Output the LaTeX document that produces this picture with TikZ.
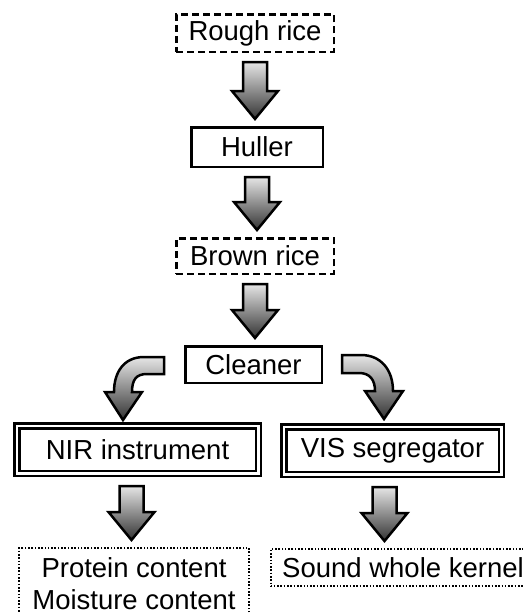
\documentclass[tikz,border=0pt]{standalone}
\usepackage{fontspec}
\setmainfont{Liberation Sans}
\usepackage{tikz}
\usetikzlibrary{positioning, calc}

\newcommand{\nodefont}{\fontsize{27.5}{32}\selectfont}
% fat block arrow going down from one node to the next
\newcommand{\fatdown}[3][0pt]{%
    \draw[fatarrow] let \p1=($(#2.south)+(#1,-9pt)$), \p2=($(#3.north)+(#1,7pt)$) in
        (\x1-12pt,\y1) -- (\x1+12pt,\y1) -- (\x1+12pt,\y2+28pt) -- (\x1+23pt,\y2+28pt)
        -- (\x1,\y2) -- (\x1-23pt,\y2+28pt) -- (\x1-12pt,\y2+28pt) -- cycle;}

\begin{document}
\begin{tikzpicture}[
        x=1pt, y=1pt,
        box/.style={draw, line width=2.5pt, minimum width=136.5pt, minimum height=36.5pt, inner sep=0pt, align=center, font=\nodefont},
        dashbox/.style={box, dash pattern=on 7pt off 4pt},
        dotbox/.style={box, line width=2pt, dash pattern=on 1.6pt off 1.7pt},
        dblbox/.style={box, line width=2.5pt, double, double distance=2.5pt, outer sep=3.75pt, minimum height=47.5pt},
        fatarrow/.style={draw, line width=2.5pt, top color=black!10, bottom color=black!80}
    ]
        \useasboundingbox (0,0) rectangle (522,-613);

        \node[dashbox, minimum width=157.5pt, minimum height=37.5pt] at (255,-33) (rough) {Rough rice};
        \node[box, minimum width=131.5pt, minimum height=39.5pt, below of=rough, node distance=114pt, xshift=2pt] (huller) {Huller};
        \node[dashbox, minimum width=157.5pt, minimum height=35.5pt, below of=huller, node distance=109pt, xshift=-2pt] (brown) {Brown rice};
        \node[box, below of=brown, node distance=108.5pt, xshift=-1.5pt] (cleaner) {Cleaner};
        \node[dblbox, minimum width=241.5pt, below of=cleaner, node distance=85pt, xshift=-116pt] (nir) {NIR instrument};
        \node[dblbox, minimum width=217.5pt, below of=cleaner, node distance=86pt, xshift=139pt] (vis) {VIS segregator};
        \node[dotbox, minimum width=230pt, minimum height=72pt, below of=nir, node distance=134.5pt, xshift=-3.5pt] (protein) {Protein content\\Moisture content};
        \node[dotbox, minimum width=265pt, minimum height=37pt, below of=vis, node distance=117pt, xshift=10.5pt] (sound) {Sound whole kernel};

        \fatdown{rough}{huller}
        \fatdown{huller}{brown}
        \fatdown{brown}{cleaner}
        \fatdown[-6pt]{nir}{protein}
        \fatdown[-8pt]{vis}{sound}

        % curved arrows out of the cleaner
        \draw[fatarrow, shift={(cleaner.west)}] (-20,7.5) -- (-40,7.5) .. controls (-60,7.5) and (-70,-7.5) .. (-70,-27.5)
            -- (-79,-27.5) -- (-61,-55.5) -- (-42,-27.5) -- (-52,-27.5)
            .. controls (-52,-15.5) and (-48,-9.5) .. (-37,-9.5) -- (-20,-9.5) -- cycle;
        \draw[fatarrow, shift={(cleaner.east)}] (19,9.5) -- (38,9.5) .. controls (58,9.5) and (70,-5.5) .. (70,-26.5)
            -- (80,-26.5) -- (61,-54.5) -- (42,-26.5) -- (52,-26.5)
            .. controls (52,-15.5) and (47,-8.5) .. (36,-8.5) -- (19,-8.5) -- cycle;
    \end{tikzpicture}
\end{document}
